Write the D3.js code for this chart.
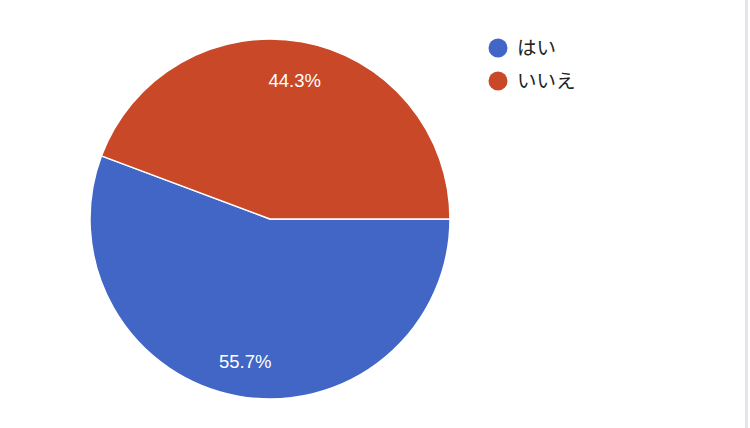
<!DOCTYPE html>
<html><head><meta charset="utf-8">
<script src="https://cdnjs.cloudflare.com/ajax/libs/d3/7.8.5/d3.min.js"></script>
<style>
html,body{margin:0;padding:0;background:#fff;}
svg{display:block;}
text{font-family:"Liberation Sans",Arial,"Noto Sans CJK JP",sans-serif;}
</style></head>
<body>
<svg id="c" width="750" height="428"></svg>
<script>
const categories = ["はい", "いいえ"];
const values = [55.7, 44.3];
const labels = ["55.7%", "44.3%"];
const colors = ["#4166c6", "#c84827"];

const svg = d3.select("#c");
svg.append("rect").attr("x",745).attr("y",0).attr("width",3).attr("height",428).attr("fill","#e5e5ee");

const cx = 270, cy = 219, R = 180;
const g = svg.append("g").attr("transform", `translate(${cx},${cy})`);
const pie = d3.pie().sort(null).value(d => d)
  .startAngle(Math.PI/2).endAngle(Math.PI/2 + 2*Math.PI);
const arcs = pie(values);
const arc = d3.arc().innerRadius(0).outerRadius(R);
const labelArc = d3.arc().innerRadius(139).outerRadius(139);

g.selectAll("path").data(arcs).enter().append("path")
  .attr("d", arc).attr("fill", (d,i) => colors[i])
  .attr("stroke", "#fff").attr("stroke-width", 1.5).attr("stroke-linejoin","round");

g.selectAll("text.lbl").data(arcs).enter().append("text")
  .attr("class","lbl")
  .attr("transform", d => `translate(${labelArc.centroid(d)})`)
  .attr("text-anchor","middle").attr("dy", (d,i) => i===0 ? "0.65em" : "0.27em")
  .attr("fill","#fff").attr("font-size", 18.5)
  .text((d,i) => labels[i]);

const leg = svg.append("g").attr("transform","translate(498,48)");
categories.forEach((c,i) => {
  const row = leg.append("g").attr("transform", `translate(0,${i*33})`);
  row.append("circle").attr("r", 9.5).attr("fill", colors[i]);
  row.append("text").attr("x", 19).attr("dy","0.36em").attr("font-size",19.5)
    .attr("fill","#222").style("font-family","'Noto Sans CJK JP',sans-serif").text(c);
});
</script>
</body></html>
